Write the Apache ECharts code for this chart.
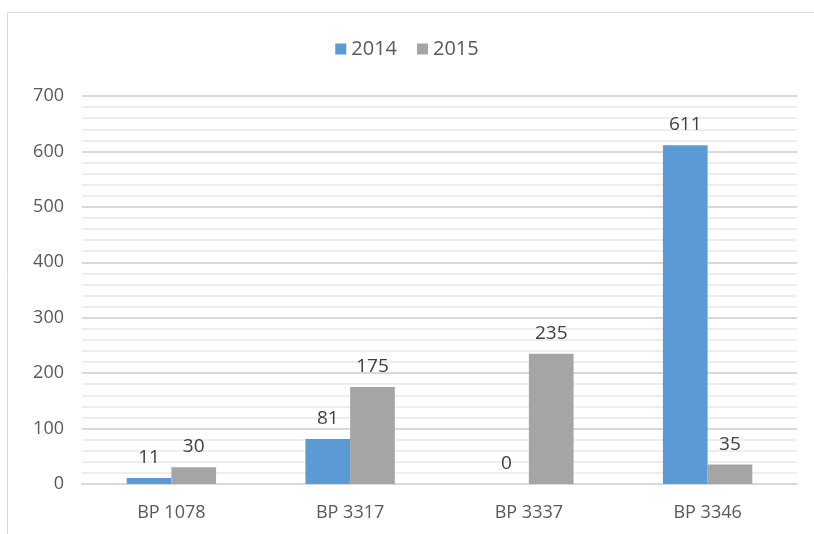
<!DOCTYPE html>
<html><head><meta charset="utf-8">
<script src="https://cdn.jsdelivr.net/npm/echarts@6/dist/echarts.min.js"></script>
<style>html,body{margin:0;padding:0;background:#fff}#c{width:814px;height:534px}</style>
</head><body><div id="c"></div>
<script>
const categories = ['BP 1078', 'BP 3317', 'BP 3337', 'BP 3346'];
const series2014 = [11, 81, 0, 611];
const series2015 = [30, 175, 235, 35];
const seriesNames = ['2014', '2015'];

const chart = echarts.init(document.getElementById('c'), null, {renderer: 'canvas'});
const font = '"Open Sans", "Noto Sans", sans-serif';
const lbl = {show: true, position: 'top', distance: 11, color: '#404040', fontSize: 19, fontFamily: font};
chart.setOption({
  animation: false,
  graphic: [{type: 'rect', shape: {x: 7.5, y: 12.5, width: 900, height: 600}, style: {fill: 'none', stroke: '#d9d9d9', lineWidth: 1}}],
  legend: {top: 34, left: 'center', itemWidth: 11, itemHeight: 11, itemGap: 20, icon: 'rect',
    textStyle: {color: '#595959', fontSize: 20, fontFamily: font}, data: seriesNames},
  grid: {left: 82, right: 17, top: 96, bottom: 50, containLabel: false},
  xAxis: {type: 'category', data: categories,
    axisLine: {lineStyle: {color: '#d9d9d9', width: 2}}, axisTick: {show: false},
    axisLabel: {color: '#595959', fontSize: 18, fontFamily: font, margin: 20}},
  yAxis: {type: 'value', min: 0, max: 700, interval: 100,
    axisLine: {show: false}, axisTick: {show: false},
    axisLabel: {color: '#595959', fontSize: 18, fontFamily: font, margin: 18},
    splitLine: {lineStyle: {color: '#d9d9d9', width: 2}},
    minorTick: {show: false, splitNumber: 5},
    minorSplitLine: {show: true, lineStyle: {color: '#eeeeee', width: 2}}},
  series: [
    {name: seriesNames[0], type: 'bar', data: series2014, barGap: '0%', barCategoryGap: '50%',
     itemStyle: {color: '#5b9bd5'}, label: lbl},
    {name: seriesNames[1], type: 'bar', data: series2015,
     itemStyle: {color: '#a5a5a5'}, label: lbl}
  ]
});
</script></body></html>
